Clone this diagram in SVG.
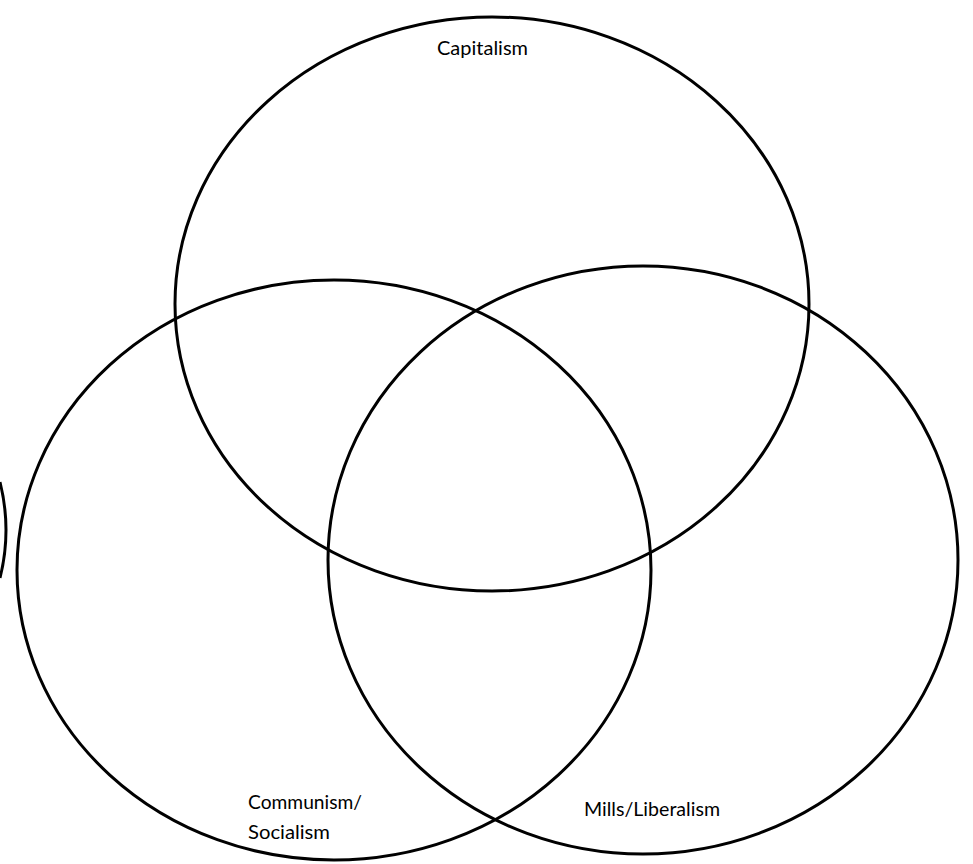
<svg xmlns="http://www.w3.org/2000/svg" width="973" height="864" viewBox="0 0 973 864">
<style>
.c{fill:none;stroke:#000;stroke-width:3}
.t{font-family:Lato,"Open Sans","Liberation Sans",sans-serif;font-size:19px;fill:#000}
</style>
<rect width="973" height="864" fill="#fff"/>
<g id="capitalism">
<ellipse class="c" cx="492" cy="304" rx="317" ry="287"/>
<text class="t" x="437" y="55" textLength="91" lengthAdjust="spacingAndGlyphs">Capitalism</text>
</g>
<g id="communism">
<ellipse class="c" cx="334" cy="570" rx="317" ry="290"/>
<text class="t" x="248" y="809" textLength="114" lengthAdjust="spacingAndGlyphs">Communism/</text>
<text class="t" x="248" y="839" textLength="82" lengthAdjust="spacingAndGlyphs">Socialism</text>
</g>
<g id="liberalism">
<ellipse class="c" cx="643" cy="560" rx="315" ry="294"/>
<text class="t" x="584" y="816" textLength="136" lengthAdjust="spacingAndGlyphs">Mills/Liberalism</text>
</g>
<g id="edge">
<path class="c" d="M0 482 Q12 530 0 578"/>
</g>
</svg>
